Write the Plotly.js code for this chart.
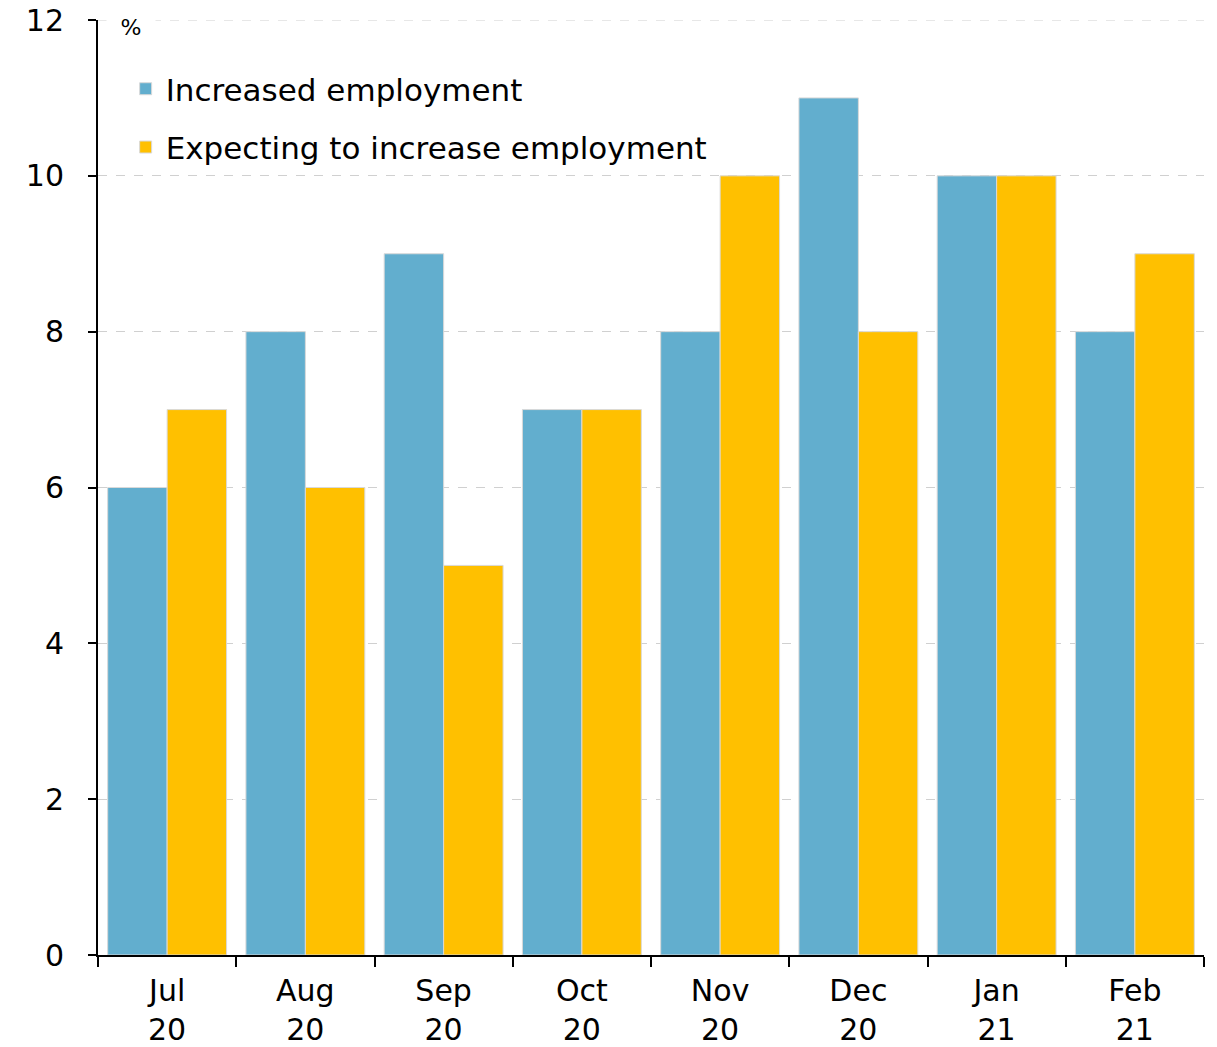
<!DOCTYPE html>
<html>
<head>
<meta charset="utf-8">
<script src="https://cdn.plot.ly/plotly-3.0.1.min.js"></script>
<style>html,body{margin:0;padding:0;background:#fff}#chart{width:1217px;height:1047px}</style>
</head>
<body>
<div id="chart"></div>
<script>
const months = ["Jul<br>20","Aug<br>20","Sep<br>20","Oct<br>20","Nov<br>20","Dec<br>20","Jan<br>21","Feb<br>21"];
const increased = [6, 8, 9, 7, 8, 11, 10, 8];
const expecting = [7, 6, 5, 7, 10, 8, 10, 9];
const yTicks = [0, 2, 4, 6, 8, 10, 12];

const FONT = "DejaVu Sans, sans-serif";
const traces = [
  {type:"bar", name:"Increased employment", x:months, y:increased, legendgroup:"a",
   marker:{color:"#62AECE", line:{color:"#d9d9d9", width:1}}},
  {type:"bar", name:"Expecting to increase employment", x:months, y:expecting, legendgroup:"b",
   marker:{color:"#FFC000", line:{color:"#d9d9d9", width:1}}}
];
const layout = {
  width:1217, height:1047,
  margin:{l:98, r:13, t:20, b:92},
  paper_bgcolor:"#fff", plot_bgcolor:"#fff",
  font:{family:FONT, size:30, color:"#000"},
  barmode:"group", bargap:0.14, bargroupgap:0,
  showlegend:true,
  legend:{x:0.025, y:0.955, xanchor:"left", yanchor:"top", bgcolor:"#fff",
          font:{family:FONT, size:31}, traceorder:"grouped", tracegroupgap:15, itemwidth:30},
  xaxis:{type:"category", showline:true, linecolor:"#000", linewidth:2,
         ticks:"outside", tickson:"boundaries", ticklen:10, tickcolor:"#000", tickwidth:2,
         showgrid:false, tickfont:{family:FONT, size:30}, zeroline:false, ticklabelstandoff:8},
  yaxis:{range:[0,12], tickvals:yTicks, showline:true, linecolor:"#000", linewidth:2,
         ticks:"outside", ticklen:8, tickcolor:"#000", tickwidth:2,
         showgrid:true, gridcolor:"#d0d0d0", griddash:"dash", gridwidth:1,
         zeroline:false, tickfont:{family:FONT, size:30}, ticklabelstandoff:18},
  shapes:[{type:"line", xref:"paper", yref:"y", x0:0, x1:1, y0:12, y1:12,
           line:{color:"#d0d0d0", width:1, dash:"dash"}, layer:"below"}],
  annotations:[{xref:"paper", yref:"paper", x:0.03, y:0.9925, xanchor:"center", yanchor:"middle",
                text:"%", showarrow:false, font:{family:FONT, size:22}, bgcolor:"#fff", width:46}]
};
Plotly.newPlot("chart", traces, layout, {displayModeBar:false, staticPlot:true});
</script>
</body>
</html>
